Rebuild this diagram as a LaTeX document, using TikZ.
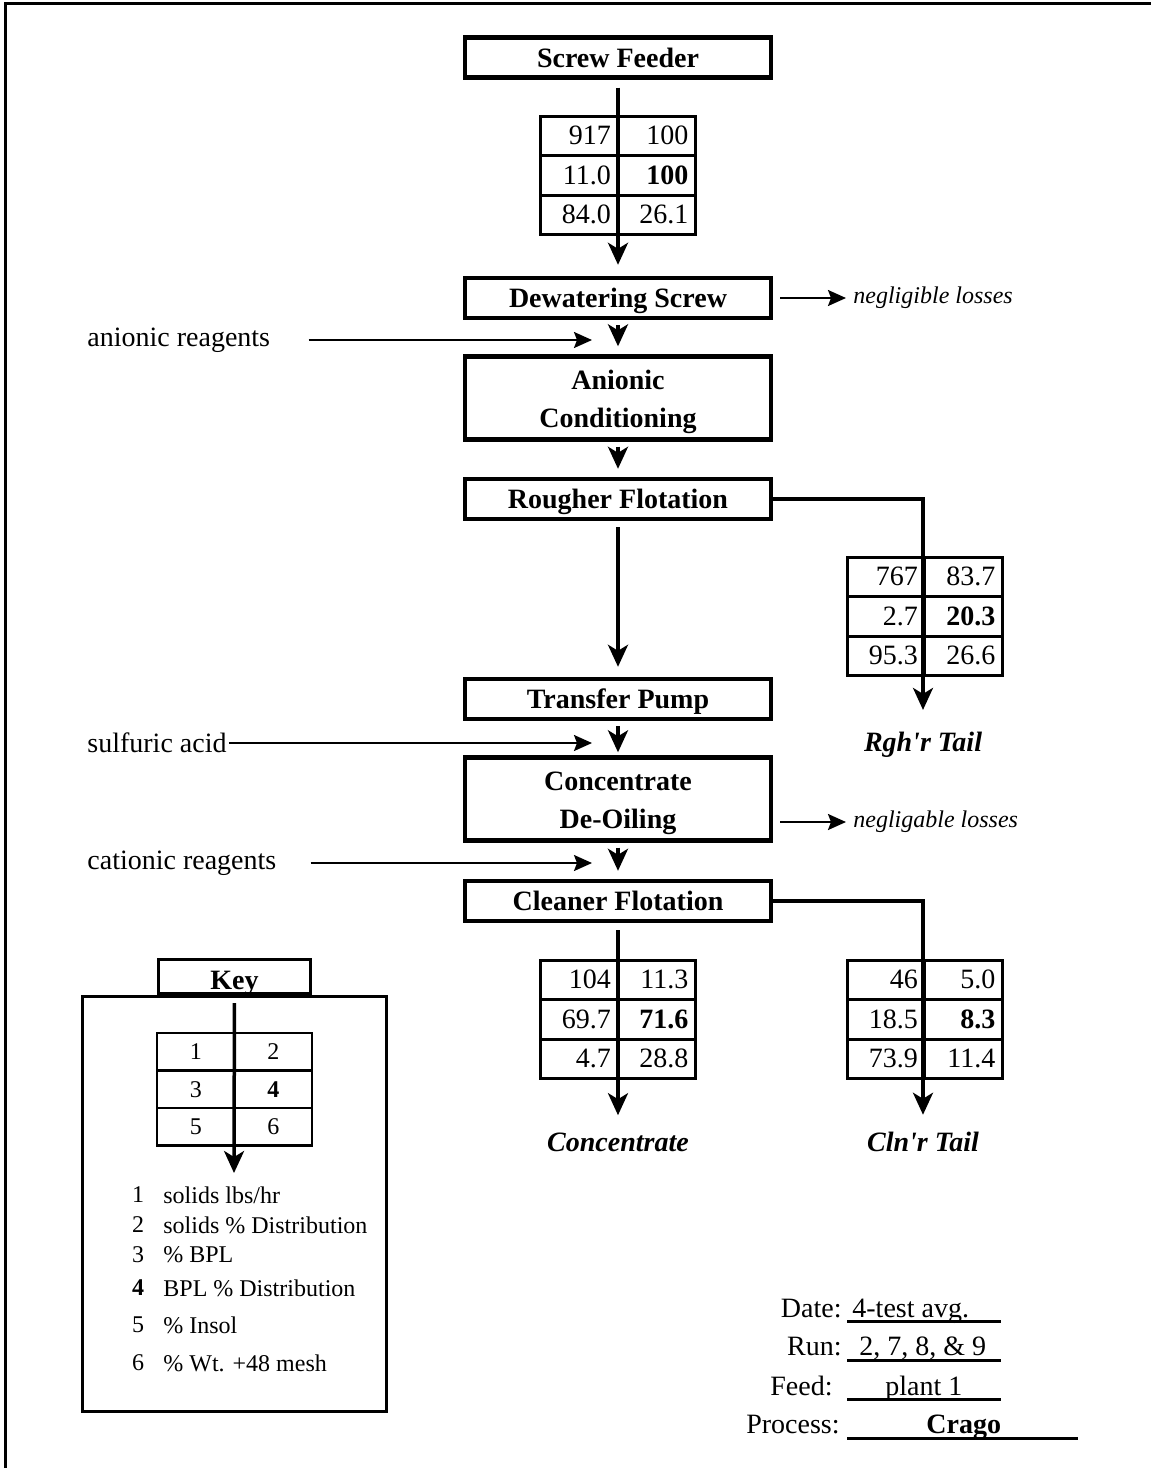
\documentclass[tikz,border=0pt]{standalone}
\usepackage{fontspec}
\setmainfont{Liberation Serif}
\usetikzlibrary{
    arrows.meta,
    positioning,
    calc
}
\tikzstyle{unit} = [
    rectangle,
    draw,
    line width=2.2pt,
    minimum width=153pt,
    minimum height=20pt,
    inner sep=0pt,
    text depth=-1.5pt,
    align=center,
    font=\fontsize{14}{19}\selectfont\bfseries
]
\tikzstyle{twoline} = [
    minimum height=41.5pt,
    text height=29pt,
    text depth=0pt
]
\tikzstyle{cell} = [
    rectangle,
    draw,
    line width=1.5pt,
    minimum width=38.75pt,
    minimum height=19.75pt,
    text width=32pt,
    inner xsep=3pt,
    inner ysep=0pt,
    outer sep=0pt,
    align=right,
    font=\fontsize{14}{16}\selectfont
]
\tikzstyle{keycell} = [
    cell,
    line width=1.35pt,
    minimum height=18.75pt,
    align=center,
    font=\fontsize{12}{14}\selectfont
]
\tikzstyle{flow} = [
    -{Stealth[length=11pt,width=10pt,inset=3pt]},
    line width=1.75pt,
    shorten <=2.5pt,
    shorten >=4pt
]
\tikzstyle{feed} = [
    -{Stealth[length=9pt,width=8pt,inset=1.5pt]},
    line width=1pt
]
\tikzstyle{reagent} = [anchor=west, inner sep=0pt, font=\fontsize{14}{16}\selectfont]
\tikzstyle{loss} = [anchor=west, inner sep=0pt, font=\fontsize{12}{14}\selectfont\itshape]
\tikzstyle{product} = [inner sep=0pt, font=\fontsize{14}{16}\selectfont\bfseries\itshape]
\tikzstyle{keyitem} = [inner sep=0pt, font=\fontsize{12}{14}\selectfont]
\tikzstyle{infolabel} = [anchor=base east, inner sep=0pt, font=\fontsize{14}{16}\selectfont]
\tikzstyle{infovalue} = [anchor=base west, inner sep=0pt, font=\fontsize{14}{16}\selectfont]
\tikzstyle{fillin} = [line width=1.5pt]

% 2 x 3 block of stream numbers, top left corner at #3
\newcommand{\datatab}[9]{%
  \node[#1, anchor=north west] (#2-1) at #3 {#4};
  \node[#1, right=0pt of #2-1] (#2-2) {#5};
  \node[#1, below=0pt of #2-1] (#2-3) {#6};
  \node[#1, right=0pt of #2-3] (#2-4) {\textbf{#7}};
  \node[#1, below=0pt of #2-3] (#2-5) {#8};
  \node[#1, right=0pt of #2-5] (#2-6) {#9};
}

\begin{document}
\begin{tikzpicture}[x=0.5pt, y=-0.5pt]
    \useasboundingbox (0,0) rectangle (1151,1468);
    % Page frame
    \draw[line width=1.5pt] (5.5,1468) -- (5.5,3.5) -- (1151,3.5);

    % Process units
    \node[unit] (feeder) at (618,57.5) {Screw Feeder};
    \node[unit] (dewater) at (618,298) {Dewatering Screw};
    \node[unit, twoline] (anionic) at (618,398) {Anionic\\Conditioning};
    \node[unit] (rougher) at (618,499) {Rougher Flotation};
    \node[unit] (transfer) at (618,699) {Transfer Pump};
    \node[unit, twoline] (deoil) at (618,799) {Concentrate\\De-Oiling};
    \node[unit] (cleaner) at (618,901) {Cleaner Flotation};

    % Reagents and losses
    \node[reagent] (anreag) at (87,340) {anionic reagents};
    \node[reagent] (acid) at (87,743) {sulfuric acid};
    \node[reagent] (catreag) at (87,863) {cationic reagents};
    \coordinate (anin) at (592,340);
    \coordinate (acidin) at (592,743);
    \coordinate (catin) at (592,863);
    \node[loss] (loss1) at (853,298) {negligible losses};
    \node[loss] (loss2) at (853,822) {negligable losses};

    % Products
    \node[product] (rtail) at (923,745) {Rgh\textquotesingle r Tail};
    \node[product] (conc) at (618,1142) {Concentrate};
    \node[product] (ctail) at (923,1142) {Cln\textquotesingle r Tail};

    % Stream data
    \datatab{cell}{feed}{(540,116)}{917}{100}{11.0}{100}{84.0}{26.1}
    \datatab{cell}{rtab}{(847,557)}{767}{83.7}{2.7}{20.3}{95.3}{26.6}
    \datatab{cell}{ctab}{(540,960)}{104}{11.3}{69.7}{71.6}{4.7}{28.8}
    \datatab{cell}{cttab}{(847,960)}{46}{5.0}{18.5}{8.3}{73.9}{11.4}

    % Flows
    \draw[flow, shorten <=4pt, shorten >=5.5pt] (feeder) -- (dewater);
    \draw[flow] (dewater) -- (anionic);
    \draw[flow] (anionic) -- (rougher);
    \draw[flow, shorten <=3pt, shorten >=5pt] (rougher) -- (transfer);
    \draw[flow, shorten >=1.5pt] (transfer) -- (deoil);
    \draw[flow] (deoil) -- (cleaner);
    \draw[flow, shorten <=0pt, shorten >=11pt] (rougher.east) -| (rtail.north);
    \draw[flow, shorten <=3.5pt, shorten >=8.5pt] (cleaner) -- (conc);
    \draw[flow, shorten <=0pt, shorten >=8.5pt] (cleaner.east) -| (ctail.north);
    \draw[feed, shorten <=19pt] (anreag) -- (anin);
    \draw[feed, shorten <=1pt] (acid) -- (acidin);
    \draw[feed, shorten <=17pt] (catreag) -- (catin);
    \draw[feed, shorten <=3.5pt, shorten >=3.5pt] (dewater.east) -- (loss1.west);
    \draw[feed, shorten <=3.5pt, shorten >=3.5pt] (deoil.east |- loss2.west) -- (loss2.west);

    % Key
    \node[draw, line width=1.35pt, minimum width=76pt, minimum height=17.15pt, inner sep=0pt,
          text height=13pt, text depth=0pt,
          font=\fontsize{14}{16}\selectfont\bfseries] (keytab) at (234.5,976.5) {Key};
    \node[draw, line width=1.35pt, minimum width=152pt, minimum height=207.6pt] (keybox) at (234.5,1204) {};
    \datatab{keycell}{ktab}{(157,1033)}{1}{2}{3}{4}{5}{6}
    \coordinate (keyend) at (234,1173);
    \draw[flow, shorten <=4pt, shorten >=0pt] (keytab) -- (keyend);
    \foreach \num/\desc/\ypos [count=\i] in {1/{solids lbs/hr}/1195, 2/{solids \% Distribution}/1225,
        3/{\% BPL}/1255, \textbf{4}/{BPL \% Distribution}/1288, 5/{\% Insol}/1325, 6/{\% Wt. +48 mesh}/1363}{
        \node[keyitem] (knum\i) at (138,\ypos) {\num};
        \node[keyitem, anchor=west] (ktext\i) at (163,\ypos) {\desc};
    }

    % Test record
    \node[infolabel] (datel) at (842,1317) {Date:};
    \node[infolabel] (runl) at (842,1355) {Run:};
    \node[infolabel] (feedl) at (833,1395) {Feed:};
    \node[infolabel] (procl) at (840,1433) {Process:};
    \node[infovalue] (datev) at (852,1317) {4-test avg.};
    \node[infovalue] (runv) at (859,1355) {2, 7, 8, \& 9};
    \node[infovalue] (feedv) at (885,1395) {plant 1};
    \node[infovalue, font=\fontsize{14}{16}\selectfont\bfseries] (procv) at (926,1433) {Crago};
    \draw[fillin] (847,1321) -- (1001,1321);
    \draw[fillin] (847,1360) -- (1001,1360);
    \draw[fillin] (847,1399) -- (1001,1399);
    \draw[fillin] (847,1438) -- (1078,1438);
\end{tikzpicture}
\end{document}
